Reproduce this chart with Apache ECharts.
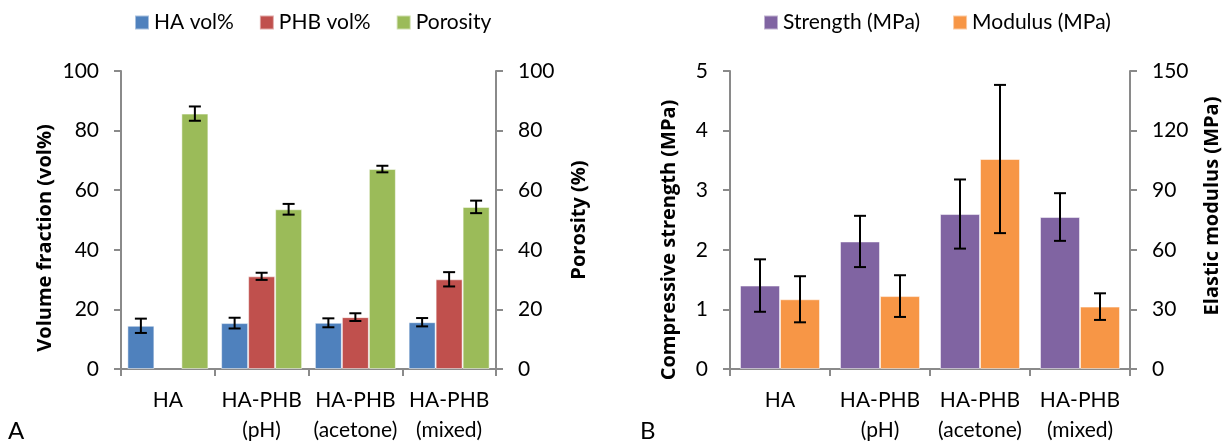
<!DOCTYPE html>
<html>
<head>
<meta charset="utf-8">
<script src="https://cdn.jsdelivr.net/npm/echarts@6/dist/echarts.min.js"></script>
<style>
  html, body { margin: 0; padding: 0; background: #fff; }
  #chart { width: 1228px; height: 447px; }
</style>
</head>
<body>
<div id="chart"></div>
<script>
    // groups on the x axis
    var categories = ['HA', 'HA-PHB\n(pH)', 'HA-PHB\n(acetone)', 'HA-PHB\n(mixed)'];

    // panel A: volume fraction and porosity (mean, error)
    var haVol = [14.5, 15.4, 15.5, 15.7];
    var haVolErr = [2.4, 1.8, 1.5, 1.4];
    var phbVol = [null, 31.1, 17.4, 30.1];
    var phbVolErr = [null, 1.2, 1.3, 2.4];
    var porosity = [85.7, 53.6, 67.1, 54.4];
    var porosityErr = [2.4, 1.8, 1.1, 2.1];

    // panel B: compressive strength and elastic modulus (mean, error)
    var strength = [1.40, 2.14, 2.60, 2.55];
    var strengthErr = [0.44, 0.43, 0.58, 0.40];
    var modulus = [35.1, 36.7, 105.7, 31.4];
    var modulusErr = [11.6, 10.5, 37.3, 6.7];

    var font = 'Lato';
    var boldFont = 'Open Sans';
    var axisColor = '#8a8a8a';

    var myChart = echarts.init(document.getElementById('chart'));

    function errData(vals, errs) {
        var out = [];
        for (var i = 0; i < vals.length; i++) {
            if (vals[i] != null) out.push([i, vals[i], errs[i]]);
        }
        return out;
    }

    // error bar drawn at bar slot "slot" (offset in bar widths from category centre)
    function errSeries(name, vals, errs, gridIdx, yIdx, slot, barW) {
        return {
            type: 'custom',
            name: name,
            xAxisIndex: gridIdx,
            yAxisIndex: yIdx,
            z: 10,
            silent: true,
            data: errData(vals, errs),
            encode: { x: 0, y: 1 },
            renderItem: function (params, api) {
                var x = api.value(0), v = api.value(1), e = api.value(2);
                var cx = api.coord([x, v])[0] + slot * barW;
                var top = api.coord([x, v + e])[1];
                var bot = api.coord([x, v - e])[1];
                var st = { stroke: '#000', lineWidth: 2 };
                return {
                    type: 'group',
                    children: [
                        { type: 'line', shape: { x1: cx, y1: top, x2: cx, y2: bot }, style: st },
                        { type: 'line', shape: { x1: cx - 6, y1: top, x2: cx + 6, y2: top }, style: st },
                        { type: 'line', shape: { x1: cx - 6, y1: bot, x2: cx + 6, y2: bot }, style: st }
                    ]
                };
            }
        };
    }

    function xAxis(gridIdx) {
        return {
            type: 'category',
            gridIndex: gridIdx,
            data: categories,
            axisLine: { lineStyle: { color: axisColor, width: 2 } },
            axisTick: { show: true, length: 7, interval: 0, lineStyle: { color: axisColor, width: 2 } },
            axisLabel: { color: '#000', fontFamily: font, fontSize: 21, lineHeight: 30, margin: 16, interval: 0, verticalAlign: 'top' }
        };
    }

    function yAxis(gridIdx, pos, max, interval) {
        return {
            type: 'value',
            gridIndex: gridIdx,
            position: pos,
            min: 0,
            max: max,
            interval: interval,
            splitLine: { show: false },
            axisLine: { show: true, lineStyle: { color: axisColor, width: 2 } },
            axisTick: { show: true, length: 7, lineStyle: { color: axisColor, width: 2 } },
            axisLabel: { color: '#000', fontFamily: font, fontSize: 21, margin: 22 }
        };
    }

    var barBorder = { borderColor: 'rgba(255,255,255,0.5)', borderWidth: 1 };

    function bar(name, data, gridIdx, yIdx, color, w) {
        return {
            type: 'bar',
            name: name,
            xAxisIndex: gridIdx,
            yAxisIndex: yIdx,
            data: data,
            barWidth: w,
            barGap: '0%',
            itemStyle: Object.assign({ color: color }, barBorder),
            animation: false
        };
    }

    function vText(txt, x, y) {
        return {
            type: 'text',
            x: x, y: y,
            rotation: Math.PI / 2,
            style: { text: txt, fontFamily: boldFont, fontWeight: 'bold', fontSize: 20, fill: '#000', align: 'center', verticalAlign: 'middle' }
        };
    }

    myChart.setOption({
        backgroundColor: '#fff',
        animation: false,
        textStyle: { fontFamily: font },
        legend: [{
            data: ['HA vol%', 'PHB vol%', 'Porosity'],
            left: 134, top: 12, padding: 0,
            icon: 'rect', itemWidth: 14, itemHeight: 14, itemGap: 25,
            textStyle: { fontFamily: font, fontSize: 21, color: '#000' }
        }, {
            data: ['Strength (MPa)', 'Modulus (MPa)'],
            left: 763, top: 12, padding: 0,
            icon: 'rect', itemWidth: 14, itemHeight: 14, itemGap: 32,
            textStyle: { fontFamily: font, fontSize: 21, color: '#000' }
        }],
        grid: [
            { left: 121, top: 71, width: 375, height: 298 },
            { left: 730, top: 71, width: 400, height: 298 }
        ],
        xAxis: [xAxis(0), xAxis(1)],
        yAxis: [
            yAxis(0, 'left', 100, 20),
            yAxis(0, 'right', 100, 20),
            yAxis(1, 'left', 5, 1),
            yAxis(1, 'right', 150, 30)
        ],
        graphic: [
            vText('Volume fraction (vol%)', 45, 238),
            vText('Porosity (%)', 579, 220),
            vText('Compressive strength (MPa)', 669, 240),
            vText('Elastic modulus (MPa)', 1212, 206),
            { type: 'text', x: 8, y: 419, style: { text: 'A', fontFamily: font, fontSize: 24, fill: '#000' } },
            { type: 'text', x: 640, y: 419, style: { text: 'B', fontFamily: font, fontSize: 24, fill: '#000' } }
        ],
        series: [
            bar('HA vol%', haVol, 0, 0, '#4F81BD', 27),
            bar('PHB vol%', phbVol, 0, 0, '#C0504D', 27),
            bar('Porosity', porosity, 0, 1, '#9BBB59', 27),
            errSeries('e1', haVol, haVolErr, 0, 0, -1, 27),
            errSeries('e2', phbVol, phbVolErr, 0, 0, 0, 27),
            errSeries('e3', porosity, porosityErr, 0, 1, 1, 27),
            bar('Strength (MPa)', strength, 1, 2, '#8064A2', 40),
            bar('Modulus (MPa)', modulus, 1, 3, '#F79646', 40),
            errSeries('e4', strength, strengthErr, 1, 2, -0.5, 40),
            errSeries('e5', modulus, modulusErr, 1, 3, 0.5, 40)
        ]
    });
</script>
</body>
</html>
